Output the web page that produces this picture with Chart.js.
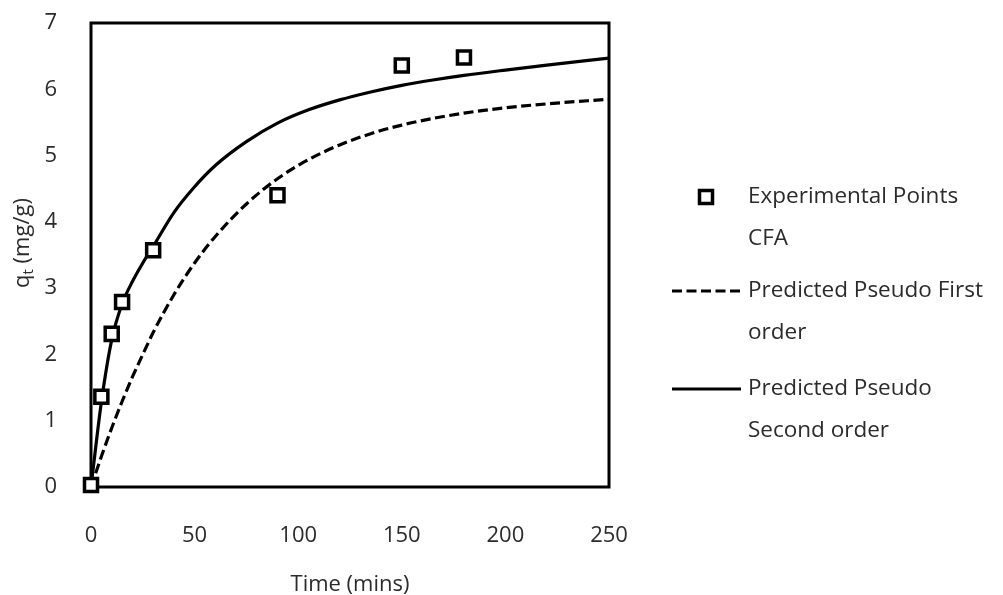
<!DOCTYPE html>
<html>
<head>
<meta charset="utf-8">
<title>Adsorption kinetics</title>
<script src="https://cdn.jsdelivr.net/npm/chart.js@4.4.1/dist/chart.umd.min.js"></script>
<style>
  html, body { margin: 0; padding: 0; background: #ffffff; }
  #wrap { width: 1003px; height: 595px; position: relative; }
</style>
</head>
<body>
<div id="wrap"><canvas id="chart" width="1003" height="595"></canvas></div>
<script>
// Measured uptake (mg/g) against contact time (min)
const expTime = [0, 5, 10, 15, 30, 90, 150, 180];
const expQt   = [0.03, 1.36, 2.31, 2.79, 3.57, 4.40, 6.36, 6.48];

// Model curves, read at these times
const fitTime       = [0, 5, 10, 15, 20, 25, 30, 40, 50, 60, 75, 90, 105, 120, 135, 150, 165, 180, 200, 220, 250];
const firstOrderQt  = [0, 0.46, 0.89, 1.29, 1.66, 2.00, 2.33, 2.90, 3.38, 3.78, 4.27, 4.65, 4.94, 5.16, 5.33, 5.46, 5.56, 5.64, 5.72, 5.78, 5.85];
const secondOrderQt = [0, 1.28, 2.22, 2.76, 3.10, 3.38, 3.63, 4.14, 4.53, 4.85, 5.21, 5.49, 5.69, 5.84, 5.96, 6.06, 6.14, 6.21, 6.29, 6.365, 6.47];

// Axis ticks
const xTicks = [0, 50, 100, 150, 200, 250];
const yTicks = [0, 1, 2, 3, 4, 5, 6, 7];

// Legend text, one entry per series, wrapped over two lines
const seriesNames = [
  ['Experimental Points', 'CFA'],
  ['Predicted Pseudo First', 'order'],
  ['Predicted Pseudo', 'Second order']
];

const FONT = '"Open Sans", "Noto Sans", sans-serif';
const TEXT = '#2b2b2b';

function pairs(xs, ys) { return xs.map((x, i) => ({ x: x, y: ys[i] })); }

// Plot-area frame, drawn under the markers
const framePlugin = {
  id: 'frame',
  beforeDatasetsDraw(chart) {
    const a = chart.chartArea, ctx = chart.ctx;
    ctx.save();
    ctx.strokeStyle = '#000';
    ctx.lineWidth = 3;
    ctx.strokeRect(a.left, a.top, a.right - a.left, a.bottom - a.top);
    ctx.restore();
  }
};

// Vertical axis title with a subscript
const yTitlePlugin = {
  id: 'yTitle',
  afterDraw(chart) {
    const ctx = chart.ctx;
    const big = '22px ' + FONT, small = '15px ' + FONT;
    ctx.save();
    ctx.fillStyle = TEXT;
    ctx.textBaseline = 'middle';
    ctx.font = big;  const wq = ctx.measureText('q').width;
    ctx.font = small; const wt = ctx.measureText('t').width;
    ctx.font = big;  const wr = ctx.measureText(' (mg/g)').width;
    const total = wq + wt + wr;
    ctx.translate(23, 243);
    ctx.rotate(-Math.PI / 2);
    let x = -total / 2;
    ctx.textAlign = 'left';
    ctx.font = big;  ctx.fillText('q', x, 0); x += wq;
    ctx.font = small; ctx.fillText('t', x, 6); x += wt;
    ctx.font = big;  ctx.fillText(' (mg/g)', x, 0);
    ctx.restore();
  }
};

// Legend to the right of the plot
const legendPlugin = {
  id: 'sideLegend',
  afterDraw(chart) {
    const ctx = chart.ctx;
    const rows = [197, 291, 389];
    const lineGap = 42;
    const textX = 748;
    ctx.save();
    chart.data.datasets.forEach((ds, i) => {
      const y = rows[i];
      ctx.strokeStyle = '#000';
      if (!ds.showLine) {
        ctx.fillStyle = '#fff';
        ctx.lineWidth = 3.5;
        ctx.beginPath();
        ctx.rect(706 - 6.5, y - 6.5, 13, 13);
        ctx.fill();
        ctx.stroke();
      } else {
        ctx.lineWidth = ds.borderWidth;
        ctx.setLineDash(ds.borderDash || []);
        ctx.beginPath();
        ctx.moveTo(672, y);
        ctx.lineTo(741, y);
        ctx.stroke();
        ctx.setLineDash([]);
      }
      ctx.fillStyle = TEXT;
      ctx.font = '22.5px ' + FONT;
      ctx.textAlign = 'left';
      ctx.textBaseline = 'middle';
      seriesNames[i].forEach((line, k) => ctx.fillText(line, textX, y + k * lineGap));
    });
    ctx.restore();
  }
};

new Chart(document.getElementById('chart'), {
  type: 'scatter',
  data: {
    datasets: [
      {
        label: seriesNames[0].join(' '),
        data: pairs(expTime, expQt),
        showLine: false,
        pointStyle: 'rect',
        pointRadius: 9.2,
        pointBorderWidth: 3.5,
        pointBackgroundColor: '#fff',
        pointBorderColor: '#000',
        clip: false
      },
      {
        label: seriesNames[1].join(' '),
        data: pairs(fitTime, firstOrderQt),
        showLine: true,
        borderColor: '#000',
        borderWidth: 3.2,
        borderDash: [10, 4.5],
        borderCapStyle: 'butt',
        pointRadius: 0,
        cubicInterpolationMode: 'monotone',
        fill: false
      },
      {
        label: seriesNames[2].join(' '),
        data: pairs(fitTime, secondOrderQt),
        showLine: true,
        borderColor: '#000',
        borderWidth: 3.2,
        pointRadius: 0,
        cubicInterpolationMode: 'monotone',
        fill: false
      }
    ]
  },
  options: {
    responsive: false,
    animation: false,
    events: [],
    layout: { padding: { left: 0, top: 23, right: 394, bottom: 0 } },
    plugins: { legend: { display: false }, tooltip: { enabled: false } },
    scales: {
      x: {
        type: 'linear',
        min: xTicks[0],
        max: xTicks[xTicks.length - 1],
        afterBuildTicks(scale) { scale.ticks = xTicks.map(v => ({ value: v })); },
        afterFit(scale) {
          scale.height = 108;
          scale.paddingLeft = 0;
          scale.paddingRight = 0;
        },
        grid: { display: false, drawTicks: false },
        border: { display: false },
        ticks: { color: TEXT, font: { family: FONT, size: 22 }, padding: 36, maxRotation: 0 },
        title: {
          display: true,
          text: 'Time (mins)',
          color: TEXT,
          font: { family: FONT, size: 22, lineHeight: 1 },
          padding: { top: 0, bottom: -1 }
        }
      },
      y: {
        type: 'linear',
        min: yTicks[0],
        max: yTicks[yTicks.length - 1],
        afterBuildTicks(scale) { scale.ticks = yTicks.map(v => ({ value: v })); },
        afterFit(scale) {
          scale.width = 91;
          scale.paddingTop = 0;
          scale.paddingBottom = 0;
        },
        grid: { display: false, drawTicks: false },
        border: { display: false },
        ticks: { color: TEXT, font: { family: FONT, size: 22 }, padding: 34 }
      }
    }
  },
  plugins: [framePlugin, yTitlePlugin, legendPlugin]
});
</script>
</body>
</html>
